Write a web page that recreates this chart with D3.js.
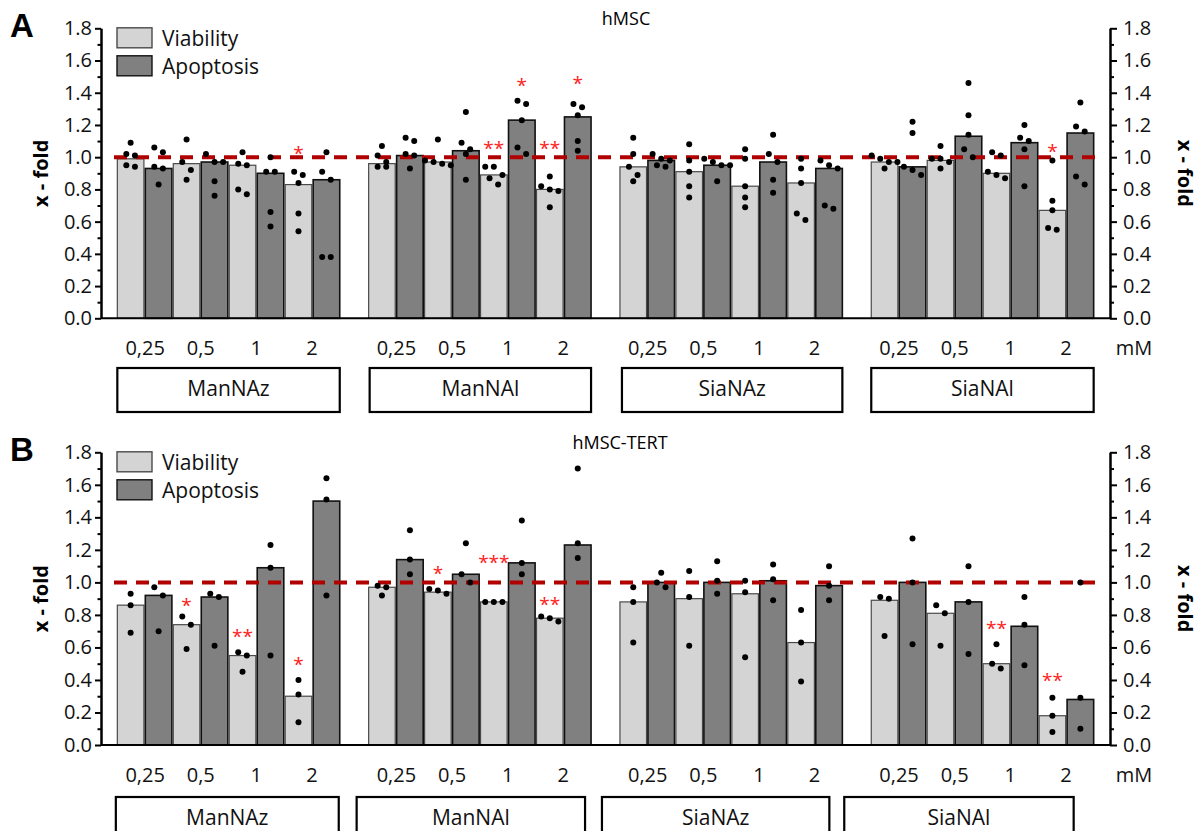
<!DOCTYPE html>
<html>
<head>
<meta charset="utf-8">
<script src="https://cdn.jsdelivr.net/npm/d3@7"></script>
<style>
  body { margin: 0; background: #fff; }
  svg { display: block; font-family: 'Open Sans', sans-serif; }
</style>
</head>
<body>
<div id="chart"></div>
<script>
// ── Data ──────────────────────────────────────────────────────────────────
const groups = ['ManNAz', 'ManNAl', 'SiaNAz', 'SiaNAl']
const concentrations = ['0,25', '0,5', '1', '2']
const series = ['Viability', 'Apoptosis']
const yTicks = [0, 0.2, 0.4, 0.6, 0.8, 1.0, 1.2, 1.4, 1.6, 1.8]
const yMinorTicks = [0.1, 0.3, 0.5, 0.7, 0.9, 1.1, 1.3, 1.5, 1.7]
const unitLabel = 'mM'

// hMSC (A): rows = compound, columns = concentration
const hmscViability = [
  [0.99, 0.96, 0.95, 0.83],
  [0.96, 0.97, 0.89, 0.80],
  [0.94, 0.91, 0.82, 0.84],
  [0.97, 0.98, 0.90, 0.67],
]
const hmscApoptosis = [
  [0.93, 0.97, 0.90, 0.86],
  [1.01, 1.04, 1.23, 1.25],
  [0.98, 0.95, 0.97, 0.93],
  [0.94, 1.13, 1.09, 1.15],
]
const hmscViabilityDots = [
  [[1.09, 1.02, 1.01, 0.95, 0.94], [1.11, 0.97, 0.92, 0.86], [1.03, 0.96, 0.95, 0.80, 0.77], [0.91, 0.89, 0.84, 0.65, 0.54]],
  [[1.07, 1.01, 0.97, 0.94, 0.94], [1.11, 0.98, 0.97, 0.96, 0.95], [0.94, 0.94, 0.89, 0.87, 0.83], [0.88, 0.82, 0.80, 0.79, 0.69]],
  [[1.12, 1.02, 0.94, 0.89, 0.85], [1.08, 0.98, 0.91, 0.82, 0.75], [1.05, 0.99, 0.82, 0.75, 0.69], [0.99, 0.93, 0.84, 0.65, 0.61]],
  [[1.01, 0.99, 0.97, 0.97, 0.93], [1.07, 0.99, 0.99, 0.97, 0.93], [1.03, 1.01, 0.91, 0.89, 0.87], [0.98, 0.73, 0.67, 0.56, 0.55]],
]
const hmscApoptosisDots = [
  [[1.06, 1.03, 0.94, 0.93, 0.83], [1.02, 0.97, 0.97, 0.85, 0.76], [1.00, 0.91, 0.91, 0.66, 0.57], [1.03, 0.91, 0.86, 0.38, 0.38]],
  [[1.12, 1.10, 1.02, 1.01, 0.93], [1.28, 1.09, 1.05, 1.02, 0.86], [1.35, 1.33, 1.23, 1.06, 1.02], [1.33, 1.31, 1.26, 1.10, 1.04]],
  [[1.02, 0.99, 0.98, 0.95, 0.94], [0.99, 0.97, 0.95, 0.95, 0.85], [1.14, 1.02, 0.97, 0.86, 0.78], [0.98, 0.95, 0.93, 0.70, 0.68]],
  [[1.22, 1.15, 0.94, 0.92, 0.89], [1.46, 1.26, 1.14, 1.05, 1.00], [1.20, 1.12, 1.10, 1.05, 0.82], [1.34, 1.19, 1.16, 0.88, 0.83]],
]
const hmscStars = [
  { group: 'ManNAz', conc: '2', series: 'Viability', mark: '*', level: 1.06 },
  { group: 'ManNAl', conc: '1', series: 'Viability', mark: '**', level: 1.085 },
  { group: 'ManNAl', conc: '1', series: 'Apoptosis', mark: '*', level: 1.48 },
  { group: 'ManNAl', conc: '2', series: 'Viability', mark: '**', level: 1.085 },
  { group: 'ManNAl', conc: '2', series: 'Apoptosis', mark: '*', level: 1.49 },
  { group: 'SiaNAl', conc: '2', series: 'Viability', mark: '*', level: 1.07 },
]

// hMSC-TERT (B)
const tertViability = [
  [0.86, 0.74, 0.55, 0.30],
  [0.97, 0.94, 0.88, 0.78],
  [0.88, 0.90, 0.93, 0.63],
  [0.89, 0.81, 0.50, 0.18],
]
const tertApoptosis = [
  [0.92, 0.91, 1.09, 1.50],
  [1.14, 1.05, 1.12, 1.23],
  [1.00, 1.00, 1.01, 0.98],
  [1.00, 0.88, 0.73, 0.28],
]
const tertViabilityDots = [
  [[0.93, 0.86, 0.69], [0.79, 0.74, 0.59], [0.57, 0.55, 0.45], [0.40, 0.31, 0.14]],
  [[0.98, 0.97, 0.92], [0.96, 0.95, 0.93], [0.88, 0.88, 0.88], [0.79, 0.78, 0.76]],
  [[0.97, 0.88, 0.63], [1.07, 0.91, 0.61], [1.01, 0.94, 0.54], [0.83, 0.63, 0.39]],
  [[0.91, 0.90, 0.67], [0.86, 0.81, 0.61], [0.62, 0.50, 0.47], [0.29, 0.18, 0.08]],
]
const tertApoptosisDots = [
  [[0.97, 0.92, 0.70], [0.93, 0.91, 0.61], [1.23, 1.09, 0.55], [1.64, 1.51, 0.92]],
  [[1.32, 1.14, 1.05], [1.24, 1.05, 1.00], [1.38, 1.12, 1.05], [1.70, 1.24, 1.15]],
  [[1.06, 1.00, 0.97], [1.13, 1.01, 0.93], [1.11, 1.02, 0.89], [1.10, 0.98, 0.89]],
  [[1.27, 1.00, 0.62], [1.10, 0.88, 0.56], [0.91, 0.74, 0.49], [1.00, 0.29, 0.10]],
]
const tertStars = [
  { group: 'ManNAz', conc: '0,5', series: 'Viability', mark: '*', level: 0.89 },
  { group: 'ManNAz', conc: '1', series: 'Viability', mark: '**', level: 0.70 },
  { group: 'ManNAz', conc: '2', series: 'Viability', mark: '*', level: 0.53 },
  { group: 'ManNAl', conc: '0,5', series: 'Viability', mark: '*', level: 1.087 },
  { group: 'ManNAl', conc: '1', series: 'Viability', mark: '***', level: 1.154 },
  { group: 'ManNAl', conc: '2', series: 'Viability', mark: '**', level: 0.90 },
  { group: 'SiaNAl', conc: '1', series: 'Viability', mark: '**', level: 0.75 },
  { group: 'SiaNAl', conc: '2', series: 'Viability', mark: '**', level: 0.43 },
]

// ── Layout ────────────────────────────────────────────────────────────────
const W = 1198, H = 831
const LEFT = 101, RIGHT = 1110
const COLORS = { Viability: '#d4d4d4', Apoptosis: '#808080' }
const STROKES = { Viability: '#4a4a4a', Apoptosis: '#111' }

const panels = [
  {
    letter: 'A', title: 'hMSC', titleX: 626, top: 28.3, bottom: 318.3,
    viability: hmscViability, apoptosis: hmscApoptosis,
    viabilityDots: hmscViabilityDots, apoptosisDots: hmscApoptosisDots, stars: hmscStars,
    labelY: 348, boxTop: 368, boxH: 44, boxShift: [[0, 0], [1, 0], [2, 0], [0, 0]],
  },
  {
    letter: 'B', title: 'hMSC-TERT', titleX: 620, top: 452.3, bottom: 745,
    viability: tertViability, apoptosis: tertApoptosis,
    viabilityDots: tertViabilityDots, apoptosisDots: tertApoptosisDots, stars: tertStars,
    labelY: 775, boxTop: 797, boxH: 45, boxShift: [[-1.5, -1], [-12, -6], [-18, -13], [-27, -20]],
  },
]

const svg = d3.select('#chart').append('svg').attr('width', W).attr('height', H)

// ── Scales shared by both panels ─────────────────────────────────────────
const xGroup = d3.scaleBand().domain(groups).range([LEFT, RIGHT]).paddingInner(0.115).paddingOuter(0.065)
const barKeys = d3.cross(concentrations, series).map(([c, s]) => `${c}|${s}`)
const xBar = d3.scaleBand().domain(barKeys).range([0, xGroup.bandwidth()]).paddingInner(0.05)
const xConc = d3.scaleBand().domain(concentrations).range([0, xGroup.bandwidth()])

const barX = (g, c, s) => xGroup(g) + xBar(`${c}|${s}`)

// beeswarm-ish rows like Prism: points closer than a dot get placed side by side
function swarm(values, cx, y) {
  const pts = values.map(v => ({ v, py: y(v) })).sort((a, b) => a.py - b.py)
  const out = []
  let i = 0
  while (i < pts.length) {
    const row = [pts[i]]
    let j = i + 1
    while (j < pts.length && pts[j].py - pts[i].py <= 8.5) { row.push(pts[j]); j++ }
    row.forEach((p, k) => out.push({ cx: cx + (k - (row.length - 1) / 2) * 8.6, cy: p.py }))
    i = j
  }
  return out
}

function drawPanel(p) {
  const y = d3.scaleLinear().domain([0, 1.8]).range([p.bottom, p.top])
  const g = svg.append('g')

  const rows = []
  groups.forEach((grp, gi) => concentrations.forEach((c, ci) => {
    rows.push({ grp, c, s: 'Viability', v: p.viability[gi][ci], dots: p.viabilityDots[gi][ci] })
    rows.push({ grp, c, s: 'Apoptosis', v: p.apoptosis[gi][ci], dots: p.apoptosisDots[gi][ci] })
  }))

  // ── Bars ──
  g.selectAll('.bar').data(rows).join('rect')
    .attr('class', 'bar')
    .attr('x', d => barX(d.grp, d.c, d.s))
    .attr('width', xBar.bandwidth())
    .attr('y', d => y(d.v))
    .attr('height', d => y(0) - y(d.v))
    .attr('fill', d => COLORS[d.s])
    .attr('stroke', d => STROKES[d.s])
    .attr('stroke-width', d => d.s === 'Apoptosis' ? 1.6 : 1.2)

  // ── Reference line at 1.0 ──
  g.append('line')
    .attr('x1', LEFT + 13).attr('x2', RIGHT - 10)
    .attr('y1', y(1)).attr('y2', y(1))
    .attr('stroke', '#b00000').attr('stroke-width', 4)
    .attr('stroke-dasharray', '13,9')

  // ── Dots ──
  const dots = rows.flatMap(d => swarm(d.dots, barX(d.grp, d.c, d.s) + xBar.bandwidth() / 2, y))
  g.selectAll('.dot').data(dots).join('circle')
    .attr('class', 'dot')
    .attr('cx', d => d.cx).attr('cy', d => d.cy).attr('r', 3)
    .attr('fill', '#000')

  // ── Significance stars ──
  g.selectAll('.star').data(p.stars).join('text')
    .attr('class', 'star')
    .attr('x', d => barX(d.group, d.conc, d.series) + xBar.bandwidth() / 2)
    .attr('y', d => y(d.level) + 12)
    .attr('text-anchor', 'middle')
    .attr('fill', '#ff2020')
    .style('font-size', '19px')
    .text(d => d.mark)

  // ── Axes ──
  const fmt = d3.format('.1f')
  const left = g.append('g').attr('transform', `translate(${LEFT},0)`)
    .call(d3.axisLeft(y).tickValues(yTicks).tickFormat(fmt).tickSize(6).tickSizeOuter(0).tickPadding(3))
  const leftMinor = g.append('g').attr('transform', `translate(${LEFT},0)`)
    .call(d3.axisLeft(y).tickValues(yMinorTicks).tickFormat('').tickSize(3.5).tickSizeOuter(0))
  const right = g.append('g').attr('transform', `translate(${RIGHT},0)`)
    .call(d3.axisRight(y).tickValues(yTicks).tickFormat(fmt).tickSize(7).tickSizeOuter(0).tickPadding(6))
  const rightMinor = g.append('g').attr('transform', `translate(${RIGHT},0)`)
    .call(d3.axisRight(y).tickValues(yMinorTicks).tickFormat('').tickSize(4).tickSizeOuter(0))
  ;[left, leftMinor, right, rightMinor].forEach(ax => {
    ax.selectAll('path, line').attr('stroke', '#000').attr('stroke-width', 2)
    ax.selectAll('text').attr('fill', '#111').style('font-size', '20px').attr('font-family', "'Open Sans', sans-serif")
  })

  g.append('line')
    .attr('x1', LEFT).attr('x2', RIGHT)
    .attr('y1', y(0)).attr('y2', y(0))
    .attr('stroke', '#000').attr('stroke-width', 2)

  // ── Axis titles ──
  const midY = (p.top + p.bottom) / 2
  g.append('text')
    .attr('transform', `translate(48,${midY}) rotate(-90)`)
    .attr('text-anchor', 'middle')
    .style('font-size', '20px').style('font-weight', 700)
    .text('x - fold')
  g.append('text')
    .attr('transform', `translate(1178,${midY}) rotate(90)`)
    .attr('text-anchor', 'middle')
    .style('font-size', '20px').style('font-weight', 700)
    .text('x - fold')

  // ── Panel letter & title ──
  g.append('text')
    .attr('x', 10).attr('y', p.top + 9)
    .attr('font-family', "'Liberation Sans', Arial, sans-serif")
    .style('font-size', '33px').style('font-weight', 700)
    .text(p.letter)
  g.append('text')
    .attr('x', p.titleX).attr('y', p.top - 3)
    .attr('text-anchor', 'middle')
    .style('font-size', '18px')
    .text(p.title)

  // ── Legend ──
  const legend = g.append('g').attr('transform', `translate(117,${p.top - 0.5})`)
  series.forEach((s, i) => {
    legend.append('rect')
      .attr('x', 0).attr('y', i * 28).attr('width', 35).attr('height', 20)
      .attr('fill', COLORS[s]).attr('stroke', STROKES[s]).attr('stroke-width', 1.4)
    legend.append('text')
      .attr('x', 45).attr('y', i * 28 + 18.5)
      .style('font-size', '21px').attr('fill', '#111')
      .text(s)
  })

  // ── Concentration labels & compound boxes ──
  groups.forEach((grp, gi) => {
    concentrations.forEach(c => {
      g.append('text')
        .attr('x', xGroup(grp) + xConc(c) + xConc.bandwidth() / 2)
        .attr('y', p.labelY + 7)
        .attr('text-anchor', 'middle')
        .style('font-size', '20px').attr('fill', '#111')
        .text(c)
    })
    const [dl, dr] = p.boxShift[gi]
    const bx = xGroup(grp) + dl
    const bw = xGroup.bandwidth() + dr - dl
    g.append('rect')
      .attr('x', bx).attr('y', p.boxTop).attr('width', bw).attr('height', p.boxH)
      .attr('fill', '#fff').attr('stroke', '#000').attr('stroke-width', 2.2)
    g.append('text')
      .attr('x', bx + bw / 2).attr('y', p.boxTop + 28)
      .attr('text-anchor', 'middle')
      .style('font-size', '21px').attr('fill', '#111')
      .text(grp)
  })
  g.append('text')
    .attr('x', 1134).attr('y', p.labelY + 7)
    .attr('text-anchor', 'middle')
    .style('font-size', '20px').attr('fill', '#111')
    .text(unitLabel)
}

panels.forEach(drawPanel)
</script>
</body>
</html>
